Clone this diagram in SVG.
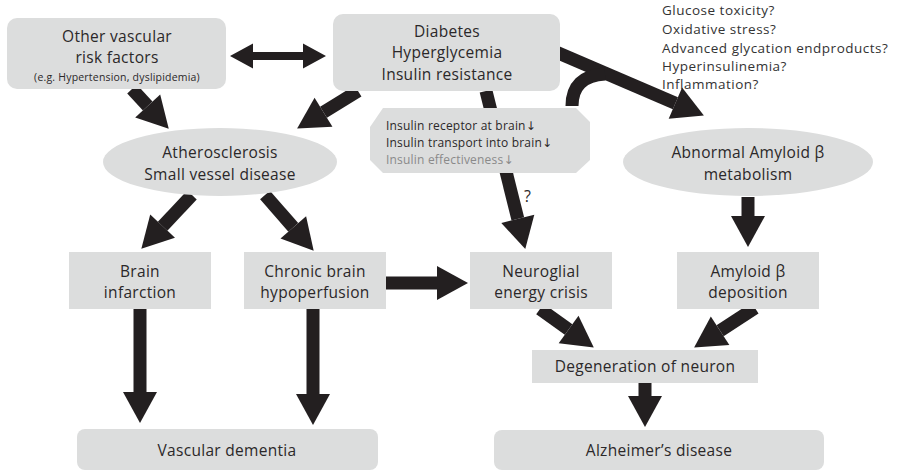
<svg xmlns="http://www.w3.org/2000/svg" width="898" height="471" viewBox="0 0 898 471">
<style>
text{font-family:"Open Sans","Noto Sans","Liberation Sans",sans-serif;fill:#2b2829}
.t{font-size:15.5px;text-anchor:middle;letter-spacing:0.3px}
.s{font-size:10.5px;text-anchor:middle;letter-spacing:0.2px}
.l{font-size:13.5px;fill:#333;letter-spacing:0.5px}
.o{font-size:12px;letter-spacing:0.2px}
.ar{font-family:"DejaVu Sans",sans-serif;font-size:12px}
.box{fill:#dcdddd}
.sh{stroke:#231f20;fill:none;stroke-width:13}
</style>
<defs>
<marker id="ah" markerUnits="userSpaceOnUse" viewBox="0 -20 40 40" markerWidth="40" markerHeight="40" refX="0" refY="0" orient="auto" overflow="visible">
<path d="M0,-17 L31,0 L0,17 Z" fill="#231f20"/>
</marker>
</defs>
<rect width="898" height="471" fill="#fff"/>

<g id="connectors">
<line class="sh" x1="132" y1="89" x2="147.7" y2="106" marker-end="url(#ah)"/>
<line class="sh" x1="358" y1="91" x2="323.5" y2="112.3" marker-end="url(#ah)"/>
<line class="sh" x1="192" y1="195" x2="162.6" y2="226.2" marker-end="url(#ah)"/>
<line class="sh" x1="265" y1="195" x2="293.3" y2="227.4" marker-end="url(#ah)"/>
<line class="sh" x1="386" y1="283" x2="437" y2="283" marker-end="url(#ah)"/>
<line class="sh" x1="486" y1="91" x2="517.8" y2="218.9" stroke-width="11" marker-end="url(#ah)"/>
<line class="sh" x1="556" y1="52" x2="675.4" y2="103.2" stroke-width="10" marker-end="url(#ah)"/>
<path class="sh" d="M572 106 Q572 76 605 74" stroke-width="9"/>
<line class="sh" x1="748" y1="197" x2="748" y2="216" stroke-width="15" marker-end="url(#ah)"/>
<line class="sh" x1="540" y1="309" x2="568.6" y2="329.5" marker-end="url(#ah)"/>
<line class="sh" x1="755" y1="308" x2="720.1" y2="330.7" marker-end="url(#ah)"/>
<line class="sh" x1="645" y1="383" x2="645" y2="396" stroke-width="12" marker-end="url(#ah)"/>
<line class="sh" x1="140" y1="309" x2="140" y2="392" stroke-width="12" marker-end="url(#ah)"/>
<line class="sh" x1="313" y1="309" x2="313" y2="394" stroke-width="12" marker-end="url(#ah)"/>
<polygon points="230,56 253,43.5 253,52 303,52 303,43.5 326,56 303,68.5 303,60 253,60 253,68.5" fill="#231f20"/>
</g>

<g id="other-risk">
<rect class="box" x="7" y="18" width="219" height="71" rx="10"/>
<text class="t" x="117" y="42">Other vascular</text>
<text class="t" x="117" y="63">risk factors</text>
<text class="s" x="117" y="81">(e.g. Hypertension, dyslipidemia)</text>
</g>

<g id="diabetes">
<rect class="box" x="333" y="14" width="227" height="77" rx="10"/>
<text class="t" x="447" y="37">Diabetes</text>
<text class="t" x="447" y="58">Hyperglycemia</text>
<text class="t" x="447" y="80">Insulin resistance</text>
</g>

<g id="mechanisms">
<text class="l" x="662" y="15">Glucose toxicity?</text>
<text class="l" x="662" y="34">Oxidative stress?</text>
<text class="l" x="662" y="53">Advanced glycation endproducts?</text>
<text class="l" x="662" y="71">Hyperinsulinemia?</text>
<text class="l" x="662" y="89">Inflammation?</text>
</g>

<g id="insulin">
<polygon class="box" points="383,108 576,108 590,122 590,160 576,173 383,173 370,160 370,127"/>
<text class="o" x="386" y="130">Insulin receptor at brain<tspan class="ar">↓</tspan></text>
<text class="o" x="386" y="147">Insulin transport into brain<tspan class="ar">↓</tspan></text>
<text class="o" x="386" y="164" style="fill:#8a8a8a">Insulin effectiveness<tspan class="ar" style="fill:#8a8a8a">↓</tspan></text>
</g>

<text x="524" y="202" style="font-size:16px">?</text>

<g id="atherosclerosis">
<ellipse class="box" cx="220" cy="162" rx="117" ry="34"/>
<text class="t" x="220" y="158">Atherosclerosis</text>
<text class="t" x="220" y="180">Small vessel disease</text>
</g>

<g id="abnormal-amyloid">
<ellipse class="box" cx="748" cy="162" rx="125" ry="34"/>
<text class="t" x="748" y="158">Abnormal Amyloid β</text>
<text class="t" x="748" y="180">metabolism</text>
</g>

<g id="brain-infarction">
<rect class="box" x="69" y="252" width="142" height="57"/>
<text class="t" x="140" y="277">Brain</text>
<text class="t" x="140" y="298">infarction</text>
</g>

<g id="chronic-hypoperfusion">
<rect class="box" x="244" y="252" width="142" height="57"/>
<text class="t" x="315" y="277">Chronic brain</text>
<text class="t" x="315" y="298">hypoperfusion</text>
</g>

<g id="neuroglial">
<rect class="box" x="470" y="252" width="142" height="57"/>
<text class="t" x="541" y="277">Neuroglial</text>
<text class="t" x="541" y="298">energy crisis</text>
</g>

<g id="amyloid-deposition">
<rect class="box" x="677" y="252" width="142" height="57"/>
<text class="t" x="748" y="277">Amyloid β</text>
<text class="t" x="748" y="298">deposition</text>
</g>

<g id="degeneration">
<rect class="box" x="532" y="350" width="226" height="33"/>
<text class="t" x="645" y="372">Degeneration of neuron</text>
</g>

<g id="vascular-dementia">
<rect class="box" x="77" y="429" width="301" height="41" rx="8"/>
<text class="t" x="227" y="456">Vascular dementia</text>
</g>

<g id="alzheimers">
<rect class="box" x="494" y="430" width="330" height="40" rx="8"/>
<text class="t" x="659" y="456">Alzheimer’s disease</text>
</g>
</svg>
